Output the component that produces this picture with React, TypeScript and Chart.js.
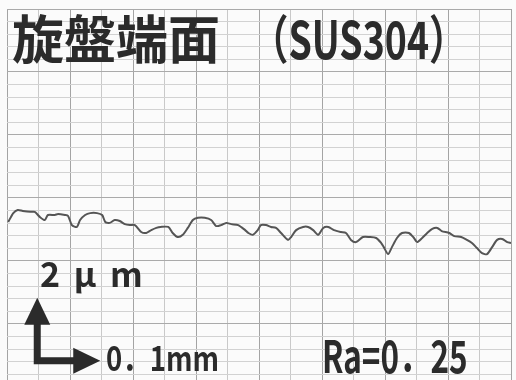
import React, { useEffect, useRef } from "react";
import { Chart, registerables } from "chart.js";

Chart.register(...registerables);

// Profile position along the surface (µm)
const positionsUm = [
  2, 10, 17, 25, 37, 44, 52, 60, 65, 76, 81, 92, 97, 103, 111, 116, 124, 132, 143, 151,
  156, 163, 171, 179, 187, 195, 203, 213, 221, 229, 237, 244, 256, 263, 271, 279, 287, 295, 303, 314,
  324, 332, 340, 348, 356, 367, 378, 383, 390, 398, 403, 411, 419, 427, 435, 446, 451, 459, 470, 478,
  486, 494, 502, 510, 519, 530, 538, 546, 554, 565, 575, 586, 594, 598, 605, 611, 619, 627, 638, 646,
  651, 659, 667, 675, 683, 690, 702, 710, 721, 730, 738, 746, 754, 762, 770, 778, 786, 794, 800,
];

// Profile height (µm)
const heightsUm = [
  5.24, 5.52, 5.62, 5.59, 5.56, 5.56, 5.40, 5.30, 5.46, 5.46, 5.49, 5.46, 5.43, 5.14, 5.08, 5.30, 5.46, 5.52, 5.52, 5.46,
  5.24, 5.21, 5.30, 5.27, 5.17, 5.14, 5.14, 4.92, 4.89, 4.98, 5.05, 5.08, 5.08, 4.89, 4.76, 4.83, 5.05, 5.30, 5.37, 5.37,
  5.30, 5.11, 5.14, 5.21, 5.17, 5.14, 4.98, 4.89, 4.83, 4.98, 5.14, 5.14, 5.08, 5.05, 4.89, 4.67, 4.76, 4.98, 5.08, 5.08,
  4.98, 4.83, 5.05, 5.08, 4.98, 4.92, 4.89, 4.67, 4.60, 4.76, 4.76, 4.73, 4.57, 4.44, 4.22, 4.44, 4.73, 4.89, 4.89, 4.73,
  4.60, 4.73, 4.89, 5.02, 5.05, 4.95, 4.89, 4.79, 4.76, 4.67, 4.57, 4.41, 4.25, 4.22, 4.44, 4.67, 4.70, 4.60, 4.57,
];

// Chart-paper grid lines
const xGridUm = [0, 50, 100, 150, 200, 250, 300, 350, 400, 450, 500, 550, 600, 650, 700, 750, 800];
const yGridUm = [
  0.4, 0.8, 1.2, 1.6, 2.0, 2.4, 2.8, 3.2, 3.6, 4.0, 4.4, 4.8, 5.2, 5.6, 6.0,
  6.4, 6.8, 7.2, 7.6, 8.0, 8.4, 8.8, 9.2, 9.6, 10.0, 10.4, 10.8, 11.2, 11.6, 12.0,
];

// Scale bar: 0.1 mm horizontal, 2 µm vertical
const scaleBarOrigin = { x: 48, y: 0.83 };
const scaleBarLengthXUm = 100;
const scaleBarLengthYUm = 2;

const titleMain = "旋盤端面";
const titleSub = "（SUS304）";
const labelVertical = "2 μ m";
const labelHorizontal = "0．1mm";
const labelRa = "Ra=0．25";

const ink = "#2b2b2b";
const fontFamily = "'Noto Sans CJK JP', 'Noto Sans', sans-serif";

const arrowPlugin = {
  id: "scaleBarArrows",
  beforeDraw(chart: any) {
    const ctx = chart.ctx;
    ctx.save();
    ctx.fillStyle = "#fbfbfb";
    ctx.fillRect(0, 0, chart.width, chart.height);
    ctx.restore();
  },
  afterDatasetsDraw(chart: any) {
    const ctx = chart.ctx;
    const xs = chart.scales.x;
    const ys = chart.scales.y;
    const ox = xs.getPixelForValue(scaleBarOrigin.x);
    const oy = ys.getPixelForValue(scaleBarOrigin.y);
    const tx = xs.getPixelForValue(scaleBarOrigin.x + scaleBarLengthXUm);
    const ty = ys.getPixelForValue(scaleBarOrigin.y + scaleBarLengthYUm);
    const headLen = 27;
    const headHalf = 13;
    ctx.save();
    ctx.strokeStyle = ink;
    ctx.fillStyle = ink;
    ctx.lineWidth = 7;
    ctx.lineJoin = "miter";
    ctx.lineCap = "butt";
    ctx.beginPath();
    ctx.moveTo(ox, ty + headLen - 1);
    ctx.lineTo(ox, oy);
    ctx.lineTo(tx - headLen + 1, oy);
    ctx.stroke();
    ctx.beginPath();
    ctx.moveTo(ox, ty);
    ctx.lineTo(ox - headHalf, ty + headLen);
    ctx.lineTo(ox + headHalf, ty + headLen);
    ctx.closePath();
    ctx.fill();
    ctx.beginPath();
    ctx.moveTo(tx, oy);
    ctx.lineTo(tx - headLen, oy - headHalf);
    ctx.lineTo(tx - headLen, oy + headHalf);
    ctx.closePath();
    ctx.fill();
    ctx.restore();
  },
};

export default function App() {
  const canvasRef = useRef<HTMLCanvasElement | null>(null);

  useEffect(() => {
    if (!canvasRef.current) return;
    const chart = new Chart(canvasRef.current, {
      type: "line",
      data: {
        datasets: [
          {
            data: positionsUm.map((x, i) => ({ x, y: heightsUm[i] })),
            borderColor: "#555555",
            borderWidth: 2,
            pointRadius: 0,
            tension: 0.25,
            fill: false,
          },
        ],
      },
      options: {
        animation: false,
        responsive: false,
        maintainAspectRatio: false,
        layout: { padding: { left: 7, right: 5, top: 9, bottom: 0 } },
        plugins: { legend: { display: false }, tooltip: { enabled: false }, title: { display: false } },
        scales: {
          x: {
            type: "linear",
            min: 0,
            max: 800,
            afterBuildTicks: (axis: any) => {
              axis.ticks = xGridUm.map((v) => ({ value: v }));
            },
            ticks: { display: false },
            border: { display: false },
            grid: {
              drawTicks: false,
              lineWidth: 1,
              color: (c: any) => (c.tick && c.tick.value % 100 === 0 ? "#a4a4a4" : "#c9c9c9"),
            },
          },
          y: {
            type: "linear",
            min: 0.222,
            max: 12,
            afterBuildTicks: (axis: any) => {
              axis.ticks = yGridUm.map((v) => ({ value: v }));
            },
            ticks: { display: false },
            border: { display: false },
            grid: {
              drawTicks: false,
              lineWidth: 1,
              color: (c: any) =>
                c.tick && Math.round(c.tick.value * 10) % 20 === 0 ? "#aaaaaa" : "#d2d2d2",
            },
          },
        },
      },
      plugins: [arrowPlugin],
    } as any);
    return () => chart.destroy();
  }, []);

  const textBase: React.CSSProperties = {
    position: "absolute",
    whiteSpace: "nowrap",
    fontFamily,
    color: ink,
    lineHeight: 1,
    transformOrigin: "left top",
  };

  return (
    <div style={{ position: "absolute", left: 0, top: 0, width: 516, height: 380, overflow: "hidden" }}>
      <canvas ref={canvasRef} width={516} height={380} style={{ display: "block", width: 516, height: 380 }} />
      <span style={{ ...textBase, left: 12, top: 11, fontSize: 52, fontWeight: 700 }}>{titleMain}</span>
      <span style={{ ...textBase, left: 251, top: 11, fontSize: 52, fontWeight: 700, transform: "scaleX(0.72)" }}>
        {titleSub}
      </span>
      <span style={{ ...textBase, left: 40, top: 256, fontSize: 34, fontWeight: 600, wordSpacing: 6 }}>
        {labelVertical}
      </span>
      <span style={{ ...textBase, left: 106, top: 340, fontSize: 34, fontWeight: 600, transform: "scaleX(0.81)" }}>
        {labelHorizontal}
      </span>
      <span style={{ ...textBase, left: 322, top: 331, fontSize: 45, fontWeight: 600, transform: "scaleX(0.7)" }}>
        {labelRa}
      </span>
    </div>
  );
}
